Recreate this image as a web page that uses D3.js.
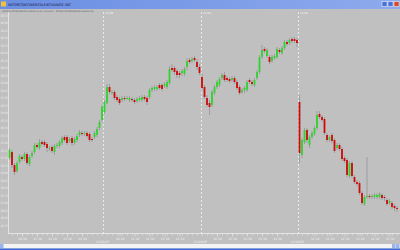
<!DOCTYPE html>
<html>
<head>
<meta charset="utf-8">
<script src="https://cdn.jsdelivr.net/npm/d3@7"></script>
<style>
  body { margin: 0; background: #c0c0c0; overflow: hidden; }
  svg { display: block; }
  text { font-family: "DejaVu Sans", sans-serif; }
</style>
</head>
<body>
<div id="chart"></div>
<script>
// 10 minute bars, four sessions
var opens = [151.5,152.1,150.8,150.2,151.1,151.6,151.4,151.9,150.9,151.7,
  152.1,152.8,152.5,153.1,153.1,152.9,152.4,152.6,152.1,152.7,
  152.7,153.0,153.6,153.6,153.2,153.5,153.0,153.3,153.8,154.0,
  153.9,154.0,153.9,153.4,153.6,153.8,154.5,155.3,156.1,157.0,
  158.6,158.0,158.1,157.6,157.4,157.3,157.5,157.4,157.3,157.4,
  157.3,157.2,157.3,157.3,157.6,157.5,157.6,158.3,158.4,158.4,
  158.8,158.8,158.7,158.6,159.0,160.5,160.5,160.2,160.0,160.0,
  159.9,160.6,161.3,161.2,161.5,161.1,160.6,159.6,158.6,157.5,
  157.0,156.8,158.0,158.6,158.8,159.5,159.8,159.5,159.4,159.3,
  159.5,159.1,158.6,158.1,158.3,158.3,159.3,159.1,158.8,159.5,
  160.1,161.6,162.4,161.7,161.6,161.2,161.5,161.6,162.3,162.0,
  162.5,163.1,163.0,163.4,163.4,163.3,157.1,151.8,153.1,154.3,
  152.8,153.6,153.9,154.5,155.9,155.6,155.4,153.8,153.3,153.8,
  153.3,152.5,152.8,152.4,151.5,151.3,149.7,151.0,149.6,149.1,
  149.0,148.0,146.9,147.6,147.7,147.6,147.6,147.6,147.6,147.8,
  147.6,147.3,147.0,147.0,146.7,146.5];
var highs = [152.5,152.3,151.0,151.2,151.9,151.8,152.1,152.1,151.8,152.2,
  153.0,153.0,153.4,153.3,153.3,153.1,152.7,152.8,152.9,153.0,
  153.3,153.7,153.8,153.8,153.6,153.7,153.6,153.9,154.3,154.2,
  154.2,154.2,154.1,153.6,154.2,154.6,155.3,156.8,157.3,158.9,
  158.9,158.3,158.3,157.8,157.6,157.7,157.7,157.7,157.7,157.6,
  157.5,157.6,157.7,157.8,157.8,157.7,158.5,158.7,158.8,158.8,
  159.0,159.0,159.1,159.3,160.7,160.9,160.7,160.4,160.2,160.4,
  160.6,161.5,161.5,161.6,161.7,161.4,160.9,160.0,158.8,157.8,
  157.3,158.3,158.8,159.3,159.6,160.0,160.1,159.7,159.6,159.7,
  159.7,159.3,158.8,158.5,158.7,159.3,159.5,159.3,159.5,160.3,
  161.8,162.8,162.6,162.5,161.8,161.8,161.9,162.6,162.5,162.7,
  163.3,163.3,163.5,163.6,163.6,163.5,157.8,153.5,154.5,154.5,
  153.8,154.2,154.7,156.2,156.2,155.8,155.6,154.0,153.8,154.0,
  153.5,153.0,153.0,152.6,151.7,151.5,151.2,151.2,149.8,149.3,
  149.2,148.2,147.8,151.6,147.9,147.9,148.0,148.0,148.1,148.0,
  147.8,147.5,147.4,147.2,146.9,146.7];
var lows = [151.3,150.5,149.8,150.0,150.9,151.2,151.2,150.8,150.7,151.5,
  151.9,152.4,152.3,152.7,152.6,152.1,152.2,152.0,151.8,152.5,
  152.5,152.8,153.1,152.8,153.0,152.7,152.8,153.1,153.6,153.7,
  153.7,153.5,153.1,153.1,153.4,153.6,154.3,155.1,155.9,156.9,
  157.9,157.8,157.3,157.1,156.8,157.1,157.2,157.3,157.1,157.1,
  156.9,157.0,157.1,157.1,157.2,156.8,157.4,158.1,158.2,158.2,
  158.3,158.2,158.5,158.4,158.8,160.1,159.8,159.5,159.5,159.7,
  159.7,160.3,160.9,161.0,161.1,160.3,159.8,158.3,157.4,156.6,
  155.8,156.6,157.8,158.4,158.6,159.3,159.1,159.1,159.0,159.1,
  158.9,158.3,157.8,157.9,158.0,158.1,158.9,158.7,158.6,159.3,
  159.9,161.4,162.0,161.5,160.9,161.0,161.3,161.4,161.9,161.8,
  162.3,162.7,162.8,163.0,163.0,162.6,151.0,151.5,152.9,153.0,
  152.5,153.4,153.7,154.3,155.4,155.1,153.8,153.1,153.1,153.0,
  152.0,152.3,152.2,151.2,151.0,149.6,149.5,149.5,148.9,148.7,
  147.8,146.8,146.7,147.4,147.4,147.4,147.4,147.4,147.4,147.3,
  147.2,146.7,146.8,146.4,146.2,146.1];
var closes = [152.3,150.8,150.1,151.0,151.7,151.4,151.9,151.0,151.6,152.0,
  152.8,152.6,153.1,152.9,152.8,152.5,152.5,152.2,152.7,152.8,
  153.1,153.5,153.3,153.0,153.4,153.0,153.4,153.7,154.1,153.9,
  154.0,153.7,153.3,153.3,154.0,154.4,155.1,156.6,157.1,158.6,
  158.1,158.1,157.5,157.3,157.0,157.5,157.4,157.5,157.5,157.3,
  157.1,157.4,157.5,157.6,157.4,157.1,158.3,158.5,158.6,158.6,
  158.5,158.4,158.9,159.1,160.4,160.3,160.1,159.8,159.8,160.2,
  160.4,161.2,161.1,161.4,161.3,160.6,160.0,158.5,157.6,156.8,
  156.6,158.1,158.6,159.1,159.4,159.8,159.3,159.3,159.2,159.5,
  159.1,158.5,158.0,158.3,158.5,159.1,159.1,158.9,159.3,160.1,
  161.6,162.3,162.2,162.3,161.1,161.6,161.7,162.4,162.1,162.5,
  163.1,162.9,163.3,163.2,163.2,163.0,152.0,153.3,154.3,153.3,
  153.6,154.0,154.5,155.8,155.6,155.3,154.0,153.3,153.6,153.2,
  152.2,152.8,152.4,151.4,151.2,149.8,151.0,149.7,149.1,148.9,
  148.0,147.0,147.6,147.7,147.6,147.7,147.8,147.8,147.9,147.5,
  147.5,146.9,147.2,146.6,146.5,146.4];

var sessionBars = [38, 77, 116];
var sessionLabels = ["11/28/07", "11/29/07", "11/30/07"];
var sessionTopLabels = ["11/28", "11/29", "11/30"];
var hourBars = [5, 11, 17, 23, 29, 44, 50, 56, 62, 68, 83, 89, 95, 101, 107, 122, 128, 134, 140, 146, 152];
var hourLabels = ["10:30","11:30","12:30","13:30","14:30",
  "10:30","11:30","12:30","13:30","14:30",
  "10:30","11:30","12:30","13:30","14:30",
  "10:30","11:30","12:30","13:30","14:30","15:30"];
var priceTicks = [165.75,165.00,164.25,163.50,162.75,162.00,161.25,160.50,159.75,159.00,
  158.25,157.50,156.75,156.00,155.25,154.50,153.75,153.00,152.25,151.50,
  150.75,150.00,149.25,148.50,147.75,147.00,146.25,145.50,144.75];

var W = 400, H = 250;
var svg = d3.select("#chart").append("svg").attr("width", W).attr("height", H);

svg.append("rect").attr("width", W).attr("height", H).attr("fill", "#c0c0c0");

// window title bar
var grad = svg.append("defs").append("linearGradient").attr("id", "tb");
grad.append("stop").attr("offset", "0%").attr("stop-color", "#6a8ee2");
grad.append("stop").attr("offset", "100%").attr("stop-color", "#8eaaee");
svg.append("rect").attr("width", W).attr("height", 9).attr("fill", "url(#tb)");
svg.append("rect").attr("x", 1).attr("y", 1.5).attr("width", 5).attr("height", 5).attr("fill", "#f0c040");
svg.append("text").attr("x", 8).attr("y", 6.3).attr("font-size", 3.6).attr("fill", "#1a1a4a")
  .text("INTERCONTINENTALEXCHANGE INC");
[["#4a72d8", 382], ["#4a72d8", 388], ["#d84a2a", 394]].forEach(function(b) {
  svg.append("rect").attr("x", b[1]).attr("y", 1.5).attr("width", 5).attr("height", 5)
    .attr("fill", b[0]).attr("stroke", "#ffffff").attr("stroke-width", 0.5);
});
svg.append("text").attr("x", 2).attr("y", 11.8).attr("font-size", 2).attr("fill", "#555")
  .attr("textLength", 92).attr("lengthAdjust", "spacingAndGlyphs")
  .text("INTERCONTINENTALEXCHANGE (5,60) 11/30/07 - INTERCONTINENTALEXCHANGE INC");

// bottom scroll strip
svg.append("rect").attr("x", 0).attr("y", 244).attr("width", W).attr("height", 4.5).attr("fill", "#f4f4f4");
svg.append("rect").attr("x", 0).attr("y", 248.5).attr("width", W).attr("height", 1.5).attr("fill", "#3a6ad8");
svg.append("rect").attr("x", 0).attr("y", 244).attr("width", 3.5).attr("height", 4).attr("fill", "#9ab4ee");
svg.append("rect").attr("x", 392).attr("y", 244).attr("width", 3.5).attr("height", 4).attr("fill", "#9ab4ee");
svg.append("rect").attr("x", 396).attr("y", 244).attr("width", 3.5).attr("height", 4).attr("fill", "#9ab4ee");

var x = d3.scaleLinear().domain([0, opens.length - 1]).range([9.5, 397]);
var y = d3.scaleLinear().domain([144, 166]).range([233, 13]);

var bars = d3.range(opens.length).map(function(i) {
  return { i: i, o: opens[i], h: highs[i], l: lows[i], c: closes[i] };
});

// y axis, labels squeezed into the narrow left strip
var yAxis = svg.append("g").attr("transform", "translate(8.5,0)")
  .call(d3.axisLeft(y).tickValues(priceTicks).tickSize(0).tickPadding(1)
    .tickFormat(function(d) { return d.toFixed(2); }));
yAxis.select(".domain").remove();
yAxis.selectAll("text").attr("font-size", 3).attr("fill", "#f2f2f2").attr("font-family", "DejaVu Sans")
  .attr("text-anchor", "start").attr("x", -8).attr("textLength", 7).attr("lengthAdjust", "spacingAndGlyphs");
svg.append("line").attr("x1", 8.5).attr("x2", 8.5).attr("y1", 12).attr("y2", 234)
  .attr("stroke", "#ececec").attr("stroke-width", 0.8);

// x axis
svg.append("line").attr("x1", 8.5).attr("x2", 400).attr("y1", 233.5).attr("y2", 233.5)
  .attr("stroke", "#ececec").attr("stroke-width", 0.8);
var minor = svg.append("g").attr("transform", "translate(0,233.5)")
  .call(d3.axisBottom(x).tickValues(d3.range(1, opens.length, 2)).tickSize(2).tickFormat(""));
minor.select(".domain").remove();
minor.selectAll("line").attr("stroke", "#ececec").attr("stroke-width", 0.5);

var xAxis = svg.append("g").attr("transform", "translate(0,233.5)")
  .call(d3.axisBottom(x).tickValues(hourBars).tickSize(3).tickPadding(1.5)
    .tickFormat(function(d, i) { return hourLabels[i]; }));
xAxis.select(".domain").remove();
xAxis.selectAll("line").attr("stroke", "#ececec").attr("stroke-width", 0.6);
xAxis.selectAll("text").attr("font-size", 3).attr("fill", "#f2f2f2").attr("font-family", "DejaVu Sans");

// session separators
var sepX = function(b) { return Math.round(x(b - 0.5)) + 0.5; };
svg.selectAll("line.sep").data(sessionBars).join("line").attr("class", "sep")
  .attr("x1", sepX).attr("x2", sepX).attr("y1", 12).attr("y2", 236)
  .attr("stroke", "#f4f4f4").attr("stroke-width", 0.8).attr("stroke-dasharray", "2,2");
svg.selectAll("text.sepTop").data(sessionBars).join("text").attr("class", "sepTop")
  .attr("x", function(d) { return sepX(d) + 1.5; }).attr("y", 13.5)
  .attr("font-size", 2.8).attr("fill", "#f2f2f2")
  .text(function(d, i) { return sessionTopLabels[i]; });
svg.selectAll("text.sepBot").data(sessionBars).join("text").attr("class", "sepBot")
  .attr("x", function(d) { return sepX(d) - 1; }).attr("y", 242.8)
  .attr("text-anchor", "middle").attr("font-size", 3).attr("fill", "#f2f2f2")
  .text(function(d, i) { return sessionLabels[i]; });

// candles
var g = svg.append("g");
g.selectAll("line.wick").data(bars).join("line").attr("class", "wick")
  .attr("x1", function(d) { return x(d.i); }).attr("x2", function(d) { return x(d.i); })
  .attr("y1", function(d) { return y(d.h); }).attr("y2", function(d) { return y(d.l); })
  .attr("stroke", "#8e8e8e").attr("stroke-width", 0.7);
g.selectAll("rect.body").data(bars).join("rect").attr("class", "body")
  .attr("x", function(d) { return x(d.i) - 0.9; })
  .attr("width", 1.8)
  .attr("y", function(d) { return y(Math.max(d.o, d.c)); })
  .attr("height", function(d) { return Math.max(0.8, Math.abs(y(d.o) - y(d.c))); })
  .attr("fill", function(d) { return d.c >= d.o ? "#2fd42f" : "#cc0a0a"; });
</script>
</body>
</html>
